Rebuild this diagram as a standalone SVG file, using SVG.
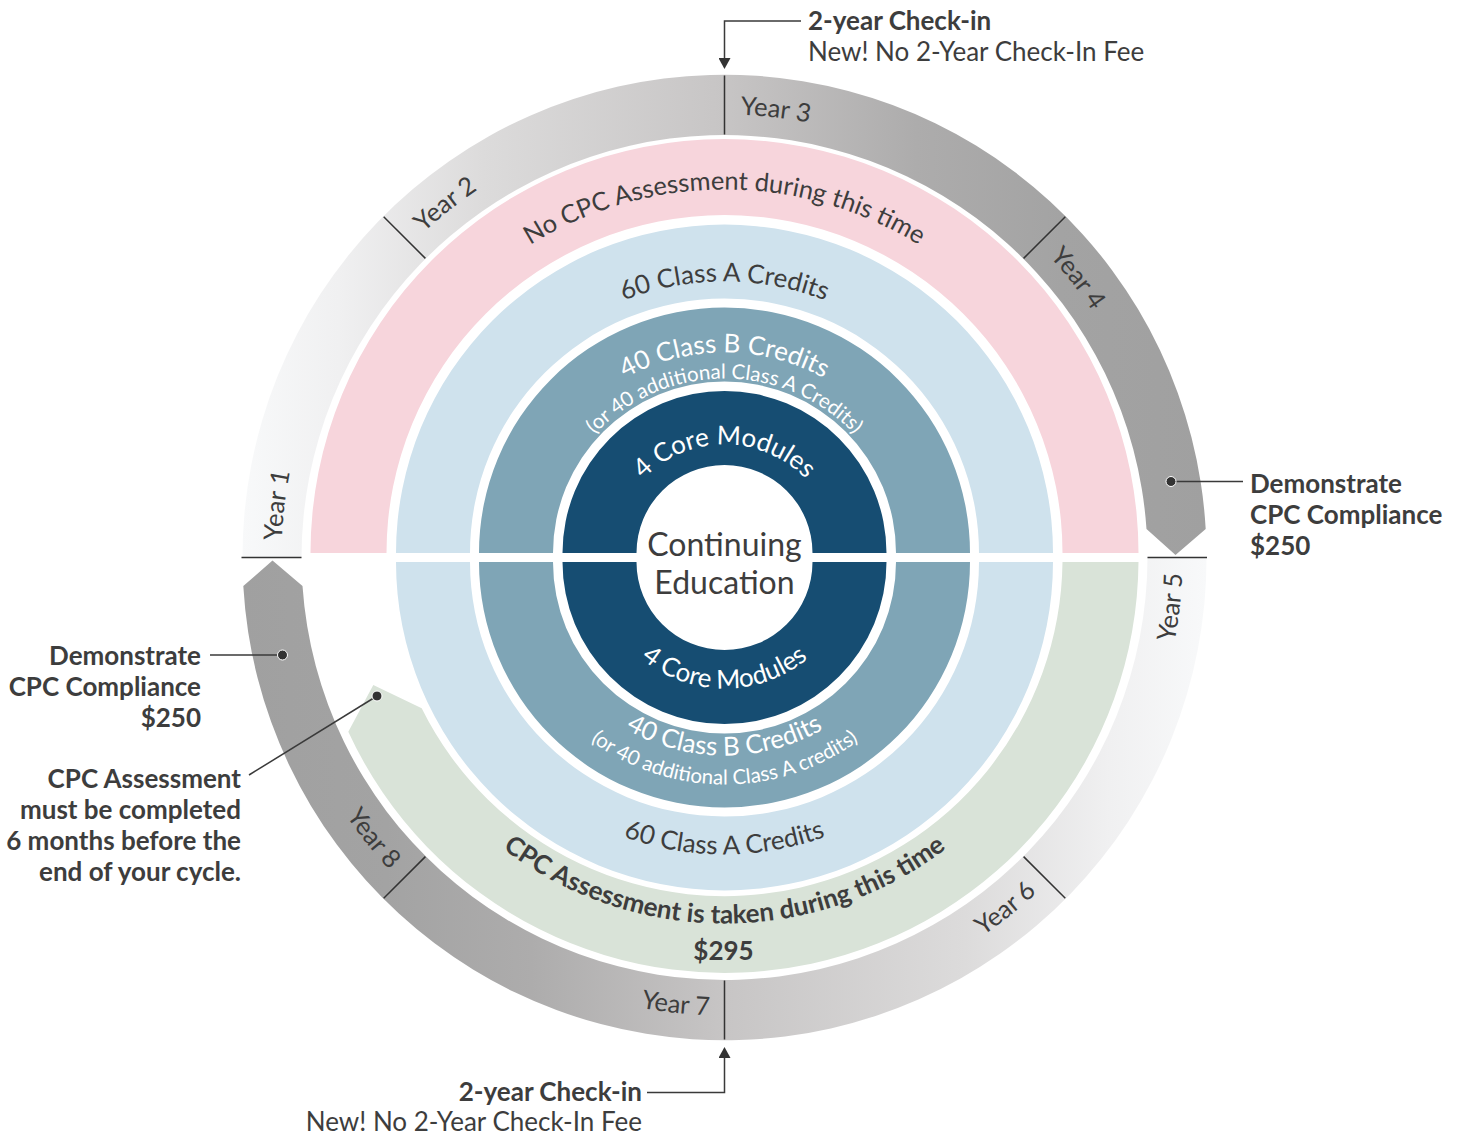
<svg xmlns="http://www.w3.org/2000/svg" xmlns:xlink="http://www.w3.org/1999/xlink" width="1461" height="1137" viewBox="0 0 1461 1137">
<style>
text{font-family:Lato,"Liberation Sans",sans-serif;fill:#3d3d3d}
.yr{font-size:25.5px}
.wt{fill:#ffffff}
.ring26{font-size:26px}
.pink{font-size:25.5px}
.small{font-size:20.5px}
.bold{font-weight:700}
.note{font-size:26px}
.div{stroke:#333;stroke-width:1.5;fill:none}
.lead{stroke:#3a3a3a;stroke-width:1.5;fill:none}
.dot{fill:#333;stroke:#fff;stroke-width:1}
</style>
<defs>
<linearGradient id="gTop" gradientUnits="userSpaceOnUse" x1="242" y1="0" x2="1206" y2="0">
<stop offset="0" stop-color="#f8f9fa"/><stop offset="0.1" stop-color="#f0f0f1"/><stop offset="0.25" stop-color="#dcdbdb"/><stop offset="0.5" stop-color="#c7c5c5"/><stop offset="0.7" stop-color="#adacac"/><stop offset="0.85" stop-color="#a3a3a3"/><stop offset="1" stop-color="#a0a0a0"/>
</linearGradient>
<linearGradient id="gBot" gradientUnits="userSpaceOnUse" x1="1206" y1="0" x2="242" y2="0">
<stop offset="0" stop-color="#f8f9fa"/><stop offset="0.1" stop-color="#f0f0f1"/><stop offset="0.25" stop-color="#dcdbdb"/><stop offset="0.5" stop-color="#c7c5c5"/><stop offset="0.7" stop-color="#adacac"/><stop offset="0.85" stop-color="#a3a3a3"/><stop offset="1" stop-color="#a0a0a0"/>
</linearGradient>
<marker id="arr" viewBox="0 0 12 12" refX="1" refY="6" markerWidth="12" markerHeight="12" markerUnits="userSpaceOnUse" orient="auto">
<path d="M0,0 L11,6 L0,12 Z" fill="#333"/>
</marker>
<path id="py1" d="M 281.5 557.5 A 443 443 0 0 1 385.1 272.7"/>
<path id="py2" d="M 411.3 244.3 A 443 443 0 0 1 685.9 116.2"/>
<path id="py3" d="M 724.5 114.5 A 443 443 0 0 1 1009.3 218.1"/>
<path id="py4" d="M 1037.7 244.3 A 443 443 0 0 1 1165.8 518.9"/>
<path id="py5" d="M 1075.3 851.9 A 458 458 0 0 0 1182.5 557.5"/>
<path id="py6" d="M 764.4 1013.8 A 458 458 0 0 0 1048.4 881.4"/>
<path id="py7" d="M 430.1 908.3 A 458 458 0 0 0 724.5 1015.5"/>
<path id="py8" d="M 268.2 597.4 A 458 458 0 0 0 400.6 881.4"/>
<path id="tPink" d="M 356.5 557.5 A 368 368 0 0 1 1092.5 557.5"/>
<path id="tLight" d="M 448.5 557.5 A 276 276 0 0 1 1000.5 557.5"/>
<path id="tMedB" d="M 519.5 557.5 A 205 205 0 0 1 929.5 557.5"/>
<path id="tMedS" d="M 545.5 557.5 A 179 179 0 0 1 903.5 557.5"/>
<path id="tDark" d="M 611.5 557.5 A 113 113 0 0 1 837.5 557.5"/>
<path id="bDark" d="M 593.5 557.5 A 131 131 0 0 0 855.5 557.5"/>
<path id="bMedB" d="M 526.5 557.5 A 198 198 0 0 0 922.5 557.5"/>
<path id="bMedS" d="M 497.5 557.5 A 227 227 0 0 0 951.5 557.5"/>
<path id="bLight" d="M 427.5 557.5 A 297 297 0 0 0 1021.5 557.5"/>
<path id="bGreen" d="M 358.5 557.5 A 366 366 0 0 0 1090.5 557.5"/>
</defs>

<g id="years-top">
<path d="M 242.5 557.5 A 482 482 0 0 1 1205.7 529 L 1175.5 555 L 1146.5 529 A 423 423 0 0 0 301.5 557.5 Z" fill="url(#gTop)"/>
<path class="div" d="M241.5 557.5 H301.5 M383.7 216.7 L425.4 258.4 M724.5 75.5 V134.5 M1065.3 216.7 L1023.6 258.4"/>
<text class="yr"><textPath xlink:href="#py1" href="#py1" startOffset="17">Year 1</textPath></text>
<text class="yr"><textPath xlink:href="#py2" href="#py2" startOffset="17">Year 2</textPath></text>
<text class="yr"><textPath xlink:href="#py3" href="#py3" startOffset="16">Year 3</textPath></text>
<text class="yr"><textPath xlink:href="#py4" href="#py4" startOffset="17">Year 4</textPath></text>
</g>

<g id="years-bottom">
<path d="M 1206.5 557.5 A 482 482 0 0 1 243.3 586 L 272.5 560.5 L 302.5 586 A 423 423 0 0 0 1147.5 557.5 Z" fill="url(#gBot)"/>
<path class="div" d="M1147.5 557.5 H1207 M1065.3 898.3 L1023.6 856.6 M724.5 980.5 V1039.5 M383.7 898.3 L425.4 856.6"/>
<text class="yr" text-anchor="end"><textPath xlink:href="#py5" href="#py5" startOffset="303.7">Year 5</textPath></text>
<text class="yr" text-anchor="end"><textPath xlink:href="#py6" href="#py6" startOffset="303.7">Year 6</textPath></text>
<text class="yr" text-anchor="end"><textPath xlink:href="#py7" href="#py7" startOffset="304.7">Year 7</textPath></text>
<text class="yr" text-anchor="end"><textPath xlink:href="#py8" href="#py8" startOffset="303.7">Year 8</textPath></text>
</g>

<g id="ring-pink">
<path d="M 310.5 553 A 414 414 0 0 1 1138.5 553 L 1062.5 553 A 338 338 0 0 0 386.5 553 Z" fill="#f7d5dc"/>
<text class="pink" text-anchor="middle"><textPath xlink:href="#tPink" href="#tPink" startOffset="50%">No CPC Assessment during this time</textPath></text>
</g>

<g id="ring-green">
<path d="M 1138.5 562 A 414 414 0 0 1 348.3 731.7 L 373.3 685 L 421.7 708.3 A 338 338 0 0 0 1062.5 562 Z" fill="#d9e3d8"/>
<text class="ring26 bold" text-anchor="middle"><textPath xlink:href="#bGreen" href="#bGreen" startOffset="50%">CPC Assessment is taken during this time</textPath></text>
<text class="ring26 bold" x="723.5" y="960" text-anchor="middle">$295</text>
</g>

<g id="ring-light">
<path d="M 396 553 A 328.5 328.5 0 0 1 1053 553 L 979 553 A 254.5 254.5 0 0 0 470 553 Z" fill="#cfe2ed"/>
<path d="M 396 562 A 328.5 328.5 0 0 0 1053 562 L 979 562 A 254.5 254.5 0 0 1 470 562 Z" fill="#cfe2ed"/>
<text class="ring26" text-anchor="middle"><textPath xlink:href="#tLight" href="#tLight" startOffset="50%">60 Class A Credits</textPath></text>
<text class="ring26" text-anchor="middle"><textPath xlink:href="#bLight" href="#bLight" startOffset="50%">60 Class A Credits</textPath></text>
</g>

<g id="ring-medium">
<path d="M 479 553 A 245.5 245.5 0 0 1 970 553 L 896 553 A 171.5 171.5 0 0 0 553 553 Z" fill="#7fa5b6"/>
<path d="M 479 562 A 245.5 245.5 0 0 0 970 562 L 896 562 A 171.5 171.5 0 0 1 553 562 Z" fill="#7fa5b6"/>
<text class="ring26 wt" text-anchor="middle"><textPath xlink:href="#tMedB" href="#tMedB" startOffset="50%">40 Class B Credits</textPath></text>
<text class="small wt" text-anchor="middle"><textPath xlink:href="#tMedS" href="#tMedS" startOffset="50%">(or 40 additional Class A Credits)</textPath></text>
<text class="ring26 wt" text-anchor="middle"><textPath xlink:href="#bMedB" href="#bMedB" startOffset="50%">40 Class B Credits</textPath></text>
<text class="small wt" text-anchor="middle"><textPath xlink:href="#bMedS" href="#bMedS" startOffset="50%">(or 40 additional Class A credits)</textPath></text>
</g>

<g id="ring-dark">
<path d="M 562.5 553 A 162 162 0 0 1 886.5 553 L 812.5 553 A 88 88 0 0 0 636.5 553 Z" fill="#164d72"/>
<path d="M 562.5 562 A 162 162 0 0 0 886.5 562 L 812.5 562 A 88 88 0 0 1 636.5 562 Z" fill="#164d72"/>
<text class="ring26 wt" text-anchor="middle"><textPath xlink:href="#tDark" href="#tDark" startOffset="50%">4 Core Modules</textPath></text>
<text class="ring26 wt" text-anchor="middle"><textPath xlink:href="#bDark" href="#bDark" startOffset="50%">4 Core Modules</textPath></text>
</g>

<g id="center">
<text x="724.5" y="556" text-anchor="middle" style="font-size:32px">Continuing</text>
<text x="724.5" y="594" text-anchor="middle" style="font-size:32px">Education</text>
</g>

<g id="note-top-checkin">
<text class="note bold" x="808" y="30">2-year Check-in</text>
<text class="note" x="808" y="61">New! No 2-Year Check-In Fee</text>
</g>
<g id="note-right-compliance">
<text class="note bold" x="1250" y="493">Demonstrate</text>
<text class="note bold" x="1250" y="524">CPC Compliance</text>
<text class="note bold" x="1250" y="555">$250</text>
</g>
<g id="note-left-compliance" text-anchor="end">
<text class="note bold" x="201" y="665">Demonstrate</text>
<text class="note bold" x="201" y="696">CPC Compliance</text>
<text class="note bold" x="201" y="727">$250</text>
</g>
<g id="note-left-assessment" text-anchor="end">
<text class="note bold" x="241" y="788">CPC Assessment</text>
<text class="note bold" x="241" y="819">must be completed</text>
<text class="note bold" x="241" y="850">6 months before the</text>
<text class="note bold" x="241" y="881">end of your cycle.</text>
</g>
<g id="note-bottom-checkin" text-anchor="end">
<text class="note bold" x="642" y="1101">2-year Check-in</text>
<text class="note" x="642" y="1131">New! No 2-Year Check-In Fee</text>
</g>

<g id="connectors">
<path class="lead" d="M 801 21 H 724.5 V 59" marker-end="url(#arr)"/>
<path class="lead" d="M 647 1092.5 H 724.5 V 1057" marker-end="url(#arr)"/>
<path class="lead" d="M 1171 481.5 H 1243"/>
<circle class="dot" cx="1171" cy="481.5" r="5"/>
<path class="lead" d="M 210 655 H 282.5"/>
<circle class="dot" cx="282.5" cy="655" r="5"/>
<path class="lead" d="M 249 775 L 377 696"/>
<circle class="dot" cx="377" cy="696" r="5"/>
</g>
</svg>
